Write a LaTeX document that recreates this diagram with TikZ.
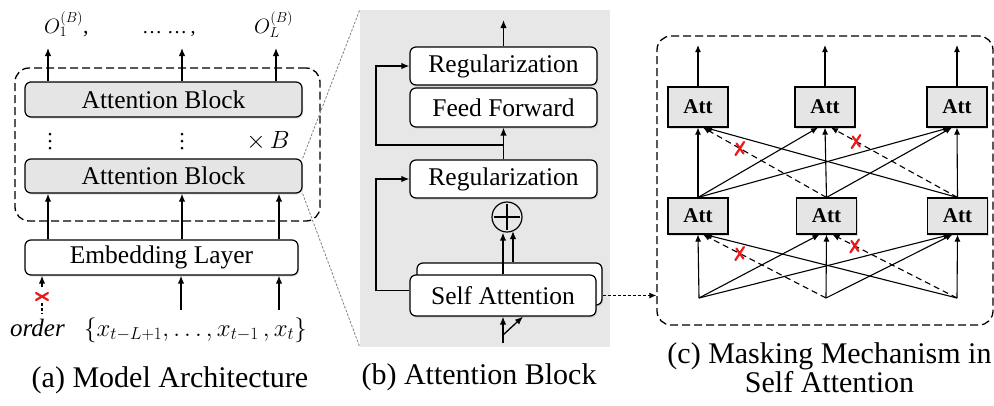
\documentclass[tikz,border=0pt]{standalone}
\usepackage{fontspec}
\setmainfont{Liberation Serif}
\usetikzlibrary{arrows.meta,shadows,calc}
\definecolor{blockgray}{RGB}{229,229,229}
\definecolor{panelgray}{RGB}{231,231,231}
\definecolor{maskred}{RGB}{235,25,25}
\begin{document}
\begin{tikzpicture}[x=1pt,y=-1pt,
  arr/.style={line width=1.3pt,-{Latex[length=8pt,width=6.5pt]}},
  thinarr/.style={line width=1.1pt,-{Latex[length=7pt,width=6pt]}},
  softshadow/.style={drop shadow={opacity=0.25,shadow xshift=1.2pt,shadow yshift=-1.5pt}},
  rbox/.style={draw,line width=1.2pt,rounded corners=6pt,inner sep=0pt,
    font=\fontsize{25.5}{26}\selectfont,softshadow},
  attbox/.style={draw,line width=1.1pt,fill=blockgray,minimum width=60pt,inner sep=0pt,
    font=\fontsize{21}{22}\selectfont\bfseries,softshadow},
  dashbox/.style={draw,dash pattern=on 8pt off 4pt,line width=1.3pt,rounded corners=14pt,inner sep=0pt},
  guide/.style={gray,line width=0.8pt,dash pattern=on 2.5pt off 1.5pt},
  masked/.style={thinarr,dash pattern=on 6pt off 4pt},
  caption/.style={font=\fontsize{30}{27}\selectfont,inner sep=0pt},
  maskx/.pic={\draw[maskred,line width=2.2pt,line cap=round]
     (-3.5,-5) -- (3.5,5) (4,-6.5) -- (-4.5,6.5);},
  ordx/.pic={\draw[maskred,line width=2.2pt,line cap=round]
     (-6,-3.5) -- (6,3.5) (-6,3.5) -- (6,-3.5);},
  vdotpic/.pic={\fill (0,-7) circle (1.5) (0,0) circle (1.5) (0,7) circle (1.5);},
]
\useasboundingbox (0,0) rectangle (994,405);

% ---------------- (a) model architecture ----------------
\node[dashbox,minimum width=305pt,minimum height=153pt] (stack) at (167.5,144.5) {};
\node[rbox,fill=blockgray,minimum width=277pt,minimum height=35pt] (abtop) at (163.5,99.5) {Attention Block};
\node[rbox,fill=blockgray,minimum width=277pt,minimum height=34pt] (abbot) at (163.5,176) {Attention Block};
\node[rbox,fill=white,minimum width=273pt,minimum height=35pt] (emb) at (161.5,257.5) {Embedding Layer};

\coordinate (colA) at (48,0);
\coordinate (colB) at (182,0);
\coordinate (colC) at (279,0);
\coordinate (outA) at (48,48);
\coordinate (outB) at (182,48);
\coordinate (outC) at (276,48);
\coordinate (inB) at (181,310);
\coordinate (inC) at (279,310);
\coordinate (ordA) at (42,287);
\coordinate (ordB) at (42,303);
\coordinate (ordC) at (42,314);
\coordinate (ordX) at (42,296.5);
\coordinate (vdA) at (50,141);
\coordinate (vdB) at (182,141);

\draw[arr] (abtop.north -| outA) -- (outA);
\draw[arr] (abtop.north -| outB) -- (outB);
\draw[arr] (abtop.north -| outC) -- (outC);
\draw[arr] (emb.north -| colA) -- (abbot.south -| colA);
\draw[arr] (emb.north -| colB) -- (abbot.south -| colB);
\draw[arr] (emb.north -| colC) -- (abbot.south -| colC);
\draw[arr] (inB) -- (emb.south -| inB);
\draw[arr] (inC) -- (emb.south -| inC);
\draw[arr] (ordA) -- (emb.south -| ordA);
\draw[line width=1.2pt,dash pattern=on 3pt off 2pt] (ordB) -- (ordC);
\pic at (ordX) {ordx};
\pic at (vdA) {vdotpic};
\pic at (vdB) {vdotpic};

\node[anchor=base west,inner sep=0pt,font=\fontsize{22}{22}\selectfont] (o1) at (44,33) {$O_1^{(B)}$,};
\node[anchor=base west,inner sep=0pt,font=\fontsize{20}{20}\selectfont] (odots) at (142,33) {… …\,,};
\node[anchor=base west,inner sep=0pt,font=\fontsize{22}{22}\selectfont] (oL) at (254,33) {$O_L^{(B)}$};
\node[font=\fontsize{24}{24}\selectfont] (times) at (268,141) {$\times\,B$};

\node[anchor=base,inner sep=0pt,font=\fontsize{25}{25}\selectfont\itshape] (ord) at (37.5,336) {order};
\node[anchor=base west,inner sep=0pt,font=\fontsize{27}{27}\selectfont] (seq) at (84,336)
  {$\{x_{t-L+1}, \dots, x_{t-1}\,, x_t\}$};
\node[caption,anchor=base] (capA) at (170,387) {(a) Model Architecture};

% ---------------- (b) attention block ----------------
\node[fill=panelgray,minimum width=250pt,minimum height=337pt,inner sep=0pt] (panelB) at (485,178.5) {};
\draw[guide] (abbot.north east) -- (panelB.north west);
\draw[guide] (abbot.south east) -- (panelB.south west);

\node[rbox,fill=white,minimum width=187pt,minimum height=38pt] (reg2) at (503.5,66) {Regularization};
\node[rbox,fill=white,minimum width=187pt,minimum height=39pt] (ff) at (503.5,107.5) {Feed Forward};
\node[rbox,fill=white,minimum width=187pt,minimum height=38pt] (reg1) at (503.5,179) {Regularization};
\node[draw,circle,line width=1.2pt,minimum size=30pt,inner sep=0pt] (plus) at (507,217) {};
\draw[line width=1.2pt] ([yshift=-3pt]plus.north) -- ([yshift=3pt]plus.south)
                        ([xshift=3pt]plus.west) -- ([xshift=-3pt]plus.east);
\node[rbox,fill=white,minimum width=185pt,minimum height=42pt] (saback) at (509.5,284) {};
\node[rbox,fill=white,minimum width=186pt,minimum height=41pt] (sa) at (503,295.5) {Self Attention};

\coordinate (topout) at (503.5,20);
\coordinate (j1) at (503.5,145);
\coordinate (loopx) at (376,0);
\coordinate (plusL) at (503,0);
\coordinate (plusR) at (513,0);
\coordinate (sain) at (503,343);
\coordinate (sabr) at (503,335);
\coordinate (sadiag) at (523,0);

\draw[arr] (reg2.north) -- (topout);
\draw[arr] (reg1.north) -- (ff.south);
\draw[arr] (j1) -- (j1 -| loopx) |- (reg2.west);
\draw[arr] ([yshift=5pt]sa.west) -- ([yshift=5pt]sa.west -| loopx) |- (reg1.west);
\draw[arr] (sa.north -| plusL) -- (plus.south -| plusL);
\draw[arr] (saback.north -| plusR) -- ([yshift=1.5pt]plus.south -| plusR);
\draw[arr] (sain) -- (sa.south -| sain);
\draw[arr] (sabr) -- (sa.south -| sadiag);
\node[caption,anchor=base] (capB) at (479,384) {(b) Attention Block};

% ---------------- (c) masking in self attention ----------------
\node[dashbox,minimum width=336pt,minimum height=289pt] (panelC) at (825,180.5) {};
\draw[thinarr,dash pattern=on 3pt off 2pt] (sa.east -| saback.east) -- (panelC.west |- sa.east);

\node[attbox,minimum height=40pt] (t1) at (698,107) {Att};
\node[attbox,minimum height=40pt] (t2) at (825,107) {Att};
\node[attbox,minimum height=40pt] (t3) at (957,107) {Att};
\node[attbox,minimum height=36pt] (b1) at (698,216) {Att};
\node[attbox,minimum height=36pt] (b2) at (826.5,216) {Att};
\node[attbox,minimum height=36pt] (b3) at (957.5,216) {Att};
\coordinate (i1) at (699,298);
\coordinate (i2) at (826,298);
\coordinate (i3) at (957,298);
\coordinate (u1) at (698,45);
\coordinate (u2) at (825,45);
\coordinate (u3) at (957,45);

\draw[thinarr] (t1.north) -- (u1);
\draw[thinarr] (t2.north) -- (u2);
\draw[thinarr] (t3.north) -- (u3);

% upper layer
\draw[thinarr] (b1.north) -- (t1.south);
\draw[masked] (b2.north) -- ([xshift=5pt]t1.south);
\draw[thinarr] (b3.north) -- ([xshift=7pt]t1.south);
\draw[thinarr] (b1.north) -- ([xshift=-7pt]t2.south);
\draw[thinarr] (b2.north) -- (t2.south);
\draw[masked] (b3.north) -- ([xshift=6pt]t2.south);
\draw[thinarr] (b1.north) -- ([xshift=-7pt]t3.south);
\draw[thinarr] (b2.north) -- ([xshift=-5pt]t3.south);
\draw[thinarr] (b3.north) -- (t3.south);
\pic at ($(b2.north)!0.70!([xshift=5pt]t1.south)$) {maskx};
\pic at ($(b3.north)!0.80!([xshift=6pt]t2.south)$) {maskx};

% lower layer
\draw[thinarr] (i1) -- (b1.south);
\draw[masked] (i2) -- ([xshift=5pt]b1.south);
\draw[thinarr] (i3) -- ([xshift=7pt]b1.south);
\draw[thinarr] (i1) -- ([xshift=-7pt]b2.south);
\draw[thinarr] (i2) -- (b2.south);
\draw[masked] (i3) -- ([xshift=6pt]b2.south);
\draw[thinarr] (i1) -- ([xshift=-7pt]b3.south);
\draw[thinarr] (i2) -- ([xshift=-5pt]b3.south);
\draw[thinarr] (i3) -- (b3.south);
\pic at ($(i2)!0.70!([xshift=5pt]b1.south)$) {maskx};
\pic at ($(i3)!0.82!([xshift=6pt]b2.south)$) {maskx};

\node[caption,align=center,anchor=north] (capC) at (829.5,342.5)
  {(c) Masking Mechanism in\\Self Attention};
\end{tikzpicture}
\end{document}
